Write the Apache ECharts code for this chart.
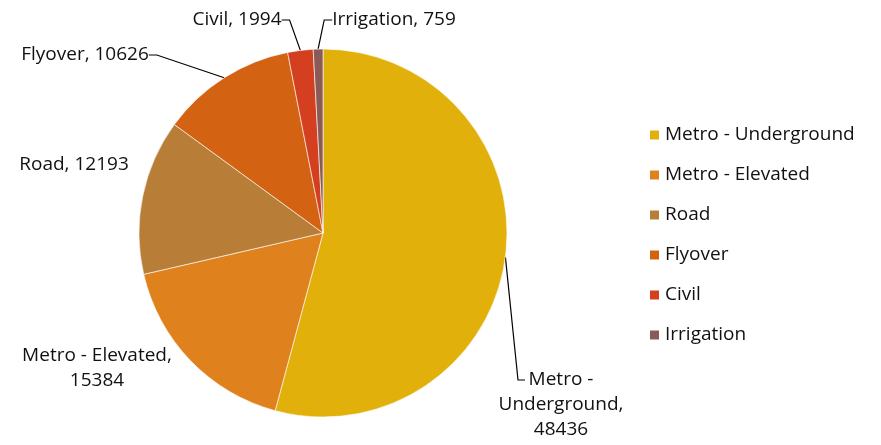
<!DOCTYPE html>
<html>
<head>
<meta charset="utf-8">
<script src="https://cdn.jsdelivr.net/npm/echarts@6/dist/echarts.min.js"></script>
<style>
  html, body { margin: 0; padding: 0; background: #ffffff; }
  #chart { width: 881px; height: 445px; }
</style>
</head>
<body>
<div id="chart"></div>
<script>
  // 数据
  const categories = ["Metro - Underground", "Metro - Elevated", "Road", "Flyover", "Civil", "Irrigation"];
  const values = [48436, 15384, 12193, 10626, 1994, 759];
  const colors = ["#E2B00A", "#DF821D", "#B87E37", "#D36213", "#D33F1F", "#8A5A58"];

  // 标签文字（原图里的换行）
  const labelTexts = [
    "Metro -\nUnderground,\n48436",
    "Metro - Elevated,\n15384",
    "Road, 12193",
    "Flyover, 10626",
    "Civil, 1994",
    "Irrigation, 759"
  ];

  // 标签位置 [x, y]
  const labelPlaces = [
    [561, 405],
    [97, 368],
    [74, 165],
    [85, 55],
    [237, 20],
    [394, 20]
  ];
  const showLines = [true, false, false, true, true, true];

  const chart = echarts.init(document.getElementById("chart"));

  const option = {
    animation: false,
    color: colors,
    legend: {
      orient: "vertical",
      left: 643,
      top: 120,
      icon: "rect",
      itemWidth: 11,
      itemHeight: 11,
      itemGap: 20,
      textStyle: {
        fontFamily: "Open Sans",
        fontSize: 19,
        lineHeight: 20,
        color: "#111111"
      },
      data: categories
    },
    series: [
      {
        type: "pie",
        center: [323, 233],
        radius: 184,
        startAngle: 90,
        clockwise: true,
        itemStyle: {
          borderColor: "#ffffff",
          borderWidth: 0.6
        },
        label: {
          show: true,
          position: "outside",
          fontFamily: "Open Sans",
          fontSize: 19,
          lineHeight: 25,
          color: "#111111",
          align: "center",
          formatter: function (p) {
            return labelTexts[p.dataIndex];
          }
        },
        labelLine: {
          show: true,
          length: 12,
          length2: 8,
          lineStyle: { color: "#000000", width: 1.2 }
        },
        labelLayout: function (params) {
          const pl = labelPlaces[params.dataIndex];
          const res = {
            x: pl[0],
            y: pl[1],
            align: "center",
            verticalAlign: "middle"
          };
          // 大扇区的引导线：竖直向下再横向接到第一行文字左侧
          if (params.dataIndex === 0 && params.labelLinePoints) {
            const start = params.labelLinePoints[0];
            const yLine = pl[1] - 25;
            res.labelLinePoints = [start, [pl[0] - 43, yLine], [pl[0] - 36, yLine]];
          }
          return res;
        },
        emphasis: { disabled: true },
        data: categories.map(function (name, i) {
          return {
            name: name,
            value: values[i],
            labelLine: { show: showLines[i] }
          };
        })
      }
    ]
  };

  chart.setOption(option);
</script>
</body>
</html>
